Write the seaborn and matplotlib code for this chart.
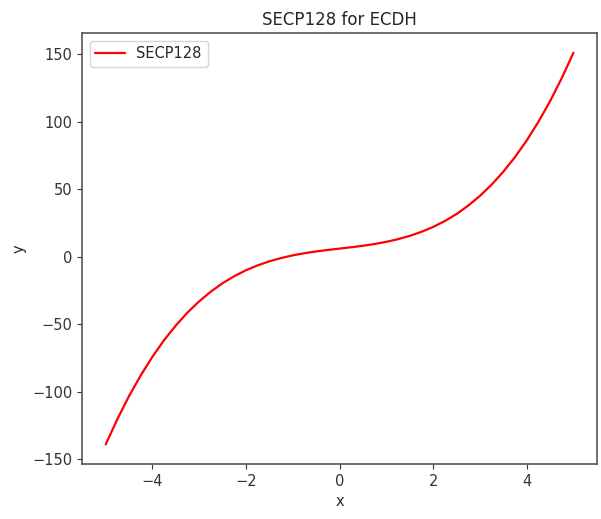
import matplotlib
matplotlib.use("Agg")
import matplotlib.pyplot as plt
import seaborn as sns
import pandas as pd

# Curve samples for SECP128
x_vals = [-5.0, -4.75, -4.5, -4.25, -4.0, -3.75, -3.5, -3.25, -3.0, -2.75,
          -2.5, -2.25, -2.0, -1.75, -1.5, -1.25, -1.0, -0.75, -0.5, -0.25,
          0.0, 0.25, 0.5, 0.75, 1.0, 1.25, 1.5, 1.75, 2.0, 2.25,
          2.5, 2.75, 3.0, 3.25, 3.5, 3.75, 4.0, 4.25, 4.5, 4.75, 5.0]
y_vals = [-139.0, -120.2, -103.1, -87.8, -74.0, -61.7, -50.9, -41.3, -33.0, -25.8,
          -19.6, -14.4, -10.0, -6.4, -3.4, -1.0, 1.0, 2.6, 3.9, 5.0,
          6.0, 7.0, 8.1, 9.4, 11.0, 13.0, 15.4, 18.4, 22.0, 26.4,
          31.6, 37.8, 45.0, 53.3, 62.9, 73.7, 86.0, 99.8, 115.1, 132.2, 151.0]
series_name = "SECP128"

df = pd.DataFrame({"x": x_vals, "y": y_vals})

sns.set_style("ticks")
plt.rcParams["font.family"] = ["DejaVu Sans"]

fig = plt.figure(figsize=(6.01, 5.19), dpi=100)
ax = fig.add_axes([0.137, 0.106, 0.856, 0.830])

sns.lineplot(data=df, x="x", y="y", color="red", linewidth=1.6,
             label=series_name, ax=ax, sort=False)

ax.set_title("SECP128 for ECDH", fontsize=12)
ax.set_xlabel("x", fontsize=10.5)
ax.set_ylabel("y", fontsize=10.5)
ax.tick_params(labelsize=10.5, colors="#333333")
for s in ax.spines.values():
    s.set_color("#555555")
    s.set_linewidth(1.2)
ax.set_xticks([-4, -2, 0, 2, 4])
ax.set_yticks([-150, -100, -50, 0, 50, 100, 150])
ax.margins(x=0.05, y=0.05)
ax.legend(loc="upper left", fontsize=10.5, frameon=True)

fig.savefig("out.png", dpi=100)
